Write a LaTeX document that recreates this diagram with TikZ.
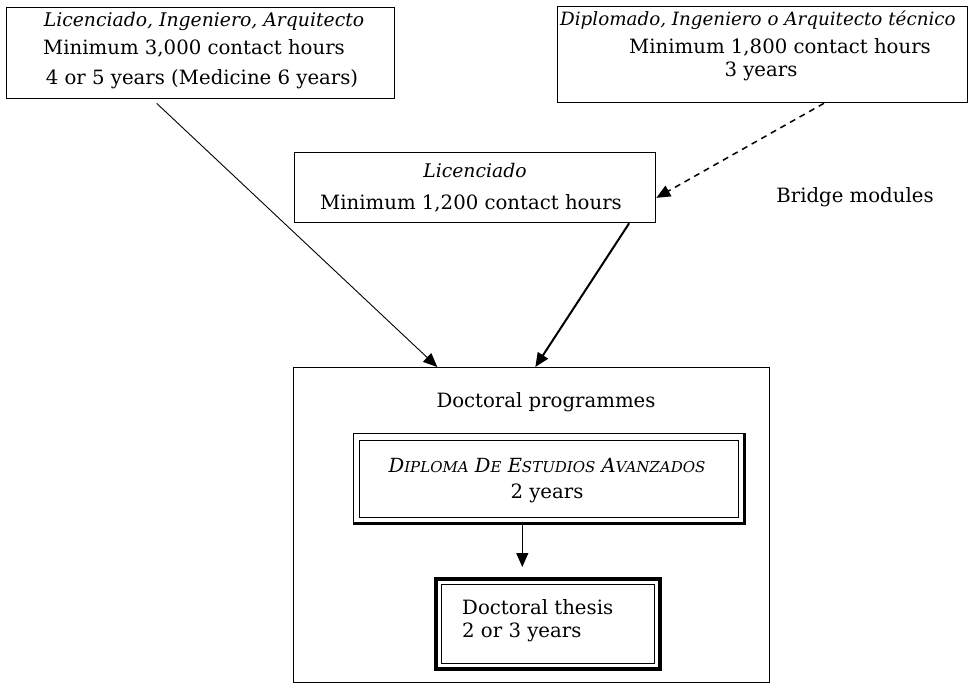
\documentclass[tikz,border=0pt]{standalone}
\usepackage{fontspec}
\setmainfont{DejaVu Serif}
\usetikzlibrary{arrows.meta,calc}
\begin{document}
\begin{tikzpicture}[x=1pt,y=-1pt,
  box/.style={draw,line width=1.3pt,inner sep=0pt,anchor=north west},
  txt/.style={inner sep=0pt,font=\fontsize{19.7}{23}\selectfont},
  itx/.style={txt,font=\fontsize{18.8}{22}\selectfont\itshape},
  arr/.style={-{Triangle[length=14pt,width=12pt]}},
]
\useasboundingbox (0,0) rectangle (974,683);
% boxes
\node[box,minimum width=388pt,minimum height=91pt] (A) at (6,7) {};
\node[box,minimum width=410pt,minimum height=96pt] (B) at (557,6) {};
\node[box,minimum width=361pt,minimum height=70pt] (C) at (294,152) {};
\node[box,line width=1pt,minimum width=476pt,minimum height=315pt] (D) at (293,367) {};
\node[box,line width=1pt,minimum width=390pt,minimum height=89pt] (DEA) at (353,433) {};
\node[box,line width=3.5pt,minimum width=224pt,minimum height=90pt] (T) at (434,577) {};
% extra borders
\draw[line width=1pt] ([shift={(6,7)}]DEA.north west) rectangle ([shift={(-6,-6)}]DEA.south east);
\draw[line width=3pt] (DEA.north east) -- (DEA.south east) -- (DEA.south west);
\draw[line width=1pt] ([shift={(7,7)}]T.north west) rectangle ([shift={(-7,-7)}]T.south east);
% texts
\node[itx] (a1) at (204,21) {Licenciado, Ingeniero, Arquitecto};
\node[txt] (a2) at (194,48) {Minimum 3,000 contact hours};
\node[txt] (a3) at (202,79) {4 or 5 years (Medicine 6 years)};
\node[itx,anchor=west,font=\fontsize{18.3}{22}\selectfont\itshape] (b1) at (560,20) {Diplomado, Ingeniero o Arquitecto técnico};
\node[txt] (b2) at (780,47) {Minimum 1,800 contact hours};
\node[txt] (b3) at (761,71) {3 years};
\node[itx] (c1) at (475,170) {Licenciado};
\node[txt] (c2) at (471,203) {Minimum 1,200 contact hours};
\node[txt] (bridge) at (855,197) {Bridge modules};
\node[txt] (dp) at (546,402) {Doctoral programmes};
\node[itx,font=\fontsize{19.5}{22}\selectfont\itshape] (dea1) at (547,465) {D{\fontsize{15}{17}\selectfont IPLOMA} D{\fontsize{15}{17}\selectfont E} E{\fontsize{15}{17}\selectfont STUDIOS} A{\fontsize{15}{17}\selectfont VANZADOS}};
\node[txt] (dea2) at (547,493) {2 years};
\node[txt,anchor=west] (t1) at (462,607) {Doctoral thesis};
\node[txt,anchor=west] (t2) at (462,632) {2 or 3 years};
% connectors
\draw[arr,line width=0.9pt,shorten <=6pt] ($(A.south west)!0.376!(A.south east)$) -- ($(D.north west)!0.3025!(D.north east)$);
\draw[arr,line width=2pt] ($(C.south west)!0.925!(C.south east)$) -- ($(D.north west)!0.508!(D.north east)$);
\draw[arr,line width=1.5pt,dash pattern=on 6pt off 5pt] ($(B.south west)!0.649!(B.south east)$) -- ($(C.north east)!0.643!(C.south east)$);
\coordinate (p) at ($(DEA.south west)!0.433!(DEA.south east)$);
\draw[arr,line width=1.2pt,shorten >=10pt] (p) -- (p |- T.north);
\end{tikzpicture}
\end{document}
